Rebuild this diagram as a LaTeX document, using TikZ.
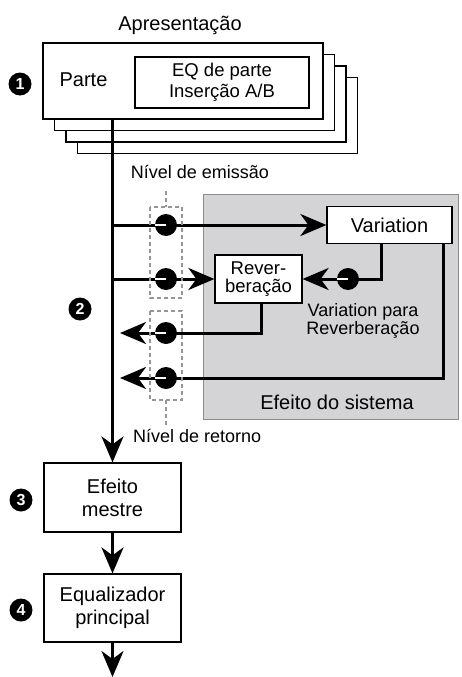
\documentclass[tikz,border=0pt]{standalone}
\usepackage{fontspec}
\setmainfont{Liberation Sans}
\usetikzlibrary{arrows.meta}
\definecolor{sysgray}{RGB}{212,212,214}
\definecolor{sysedge}{RGB}{140,140,140}
\definecolor{dashgray}{RGB}{150,150,150}
\begin{document}
\begin{tikzpicture}[x=1pt,y=-1pt,
  big/.style={font=\fontsize{20}{23}\selectfont},
  small/.style={font=\fontsize{18}{20}\selectfont},
  box/.style={draw=black, line width=1.2pt, fill=white, inner sep=0pt},
  flow/.style={line width=3pt, -{Stealth[length=26pt,width=22pt,inset=8pt]}},
  wire/.style={line width=3pt},
  knob/.style={circle, fill=black, minimum size=22pt, inner sep=0pt},
  badge/.style={circle, fill=black, text=white, minimum size=23pt, inner sep=0pt, font=\fontsize{16}{16}\selectfont\bfseries},
  lvl/.style={draw=dashgray, dash pattern=on 4pt off 3pt, line width=1.5pt},
  knobline/.style={draw=white, line width=2pt}
]
\useasboundingbox (0,0) rectangle (461,677);

% stacked part boxes
\node[box, minimum width=280pt, minimum height=76pt] (p4) at (217.5,115.5) {};
\node[box, minimum width=280pt, minimum height=76pt] (p3) at (206,104) {};
\node[box, minimum width=280pt, minimum height=76pt] (p2) at (194.5,92.5) {};
\node[box, minimum width=280pt, minimum height=76pt] (part) at (183,81) {};
\node[box, minimum width=174pt, minimum height=51pt, align=center, font=\fontsize{18.5}{21}\selectfont] (eq) at (222,82.5) {EQ de parte\\Inserção A/B};
\node[big, inner sep=0pt] (parte) at (83.5,80) {Parte};
\node[big, inner sep=0pt] (apres) at (180,25) {Apresentação};
\node[badge] (b1) at (20,84) {1};

% system effect area
\node[draw=sysedge, fill=sysgray, line width=1pt, minimum width=255pt, minimum height=225pt, inner sep=0pt] (sys) at (330.5,306.5) {};
\node[big, inner sep=0pt] (systxt) at (337,402) {Efeito do sistema};
\node[box, minimum width=125pt, minimum height=37pt, big] (var) at (389.5,225) {Variation};
\node[box, minimum width=87pt, minimum height=48pt, align=center, font=\fontsize{18.5}{18.5}\selectfont] (rev) at (258.5,279) {Rever-\\beração};
\node[small, align=center, inner sep=0pt, font=\fontsize{18}{18.5}\selectfont] (v2r) at (363,321) {Variation para\\Reverberação};

% labels
\node[small, inner sep=0pt] (emis) at (200,172) {Nível de emissão};
\node[small, inner sep=0pt, anchor=west] (ret) at (133,436) {Nível de retorno};
\node[badge] (b2) at (80,309) {2};

% master chain
\node[box, minimum width=137pt, minimum height=69pt, align=center, font=\fontsize{20}{23}\selectfont] (mestre) at (112.5,497.5) {Efeito\\mestre};
\node[box, minimum width=137pt, minimum height=68pt, align=center, font=\fontsize{20}{23}\selectfont] (mainq) at (112.5,608) {Equalizador\\principal};
\node[badge] (b3) at (21,500) {3};
\node[badge] (b4) at (21,610) {4};
\coordinate (out) at (112.5,677);

% coordinates
\coordinate (tap1) at (112.5,225);
\coordinate (tap2) at (112.5,279);
\coordinate (ret1) at (120,333);
\coordinate (ret2) at (120,378);

% connectors
\draw[flow] (part.south -| mestre.north) -- (mestre.north);
\draw[flow] (mestre.south) -- (mainq.north);
\draw[flow] (mainq.south) -- (out);
\draw[flow] (tap1) -- (var.west);
\draw[flow] (tap2) -- (rev.west);
\draw[flow] ([xshift=2.5pt]rev.south) |- (ret1);
\draw[flow] ([xshift=53.5pt]var.south) |- (ret2);
\draw[flow] ([xshift=-8.5pt]var.south) |- (rev.east);

% level boxes
\draw[lvl] (150,207) rectangle (182,298);
\draw[lvl] (166,191) -- (166,207);
\draw[lvl] (150,311) rectangle (182,400);
\draw[lvl] (166,400) -- (166,428);

% knobs
\node[knob] (k1) at (166,225) {};
\node[knob] (k2) at (166,279) {};
\node[knob] (k3) at (166,333) {};
\node[knob] (k4) at (166,378) {};
\node[knob] (k5) at (348,279) {};
\foreach \k in {k1,k2,k3,k4,k5} {\draw[knobline] (\k.west) -- (\k.center);}
\end{tikzpicture}
\end{document}
